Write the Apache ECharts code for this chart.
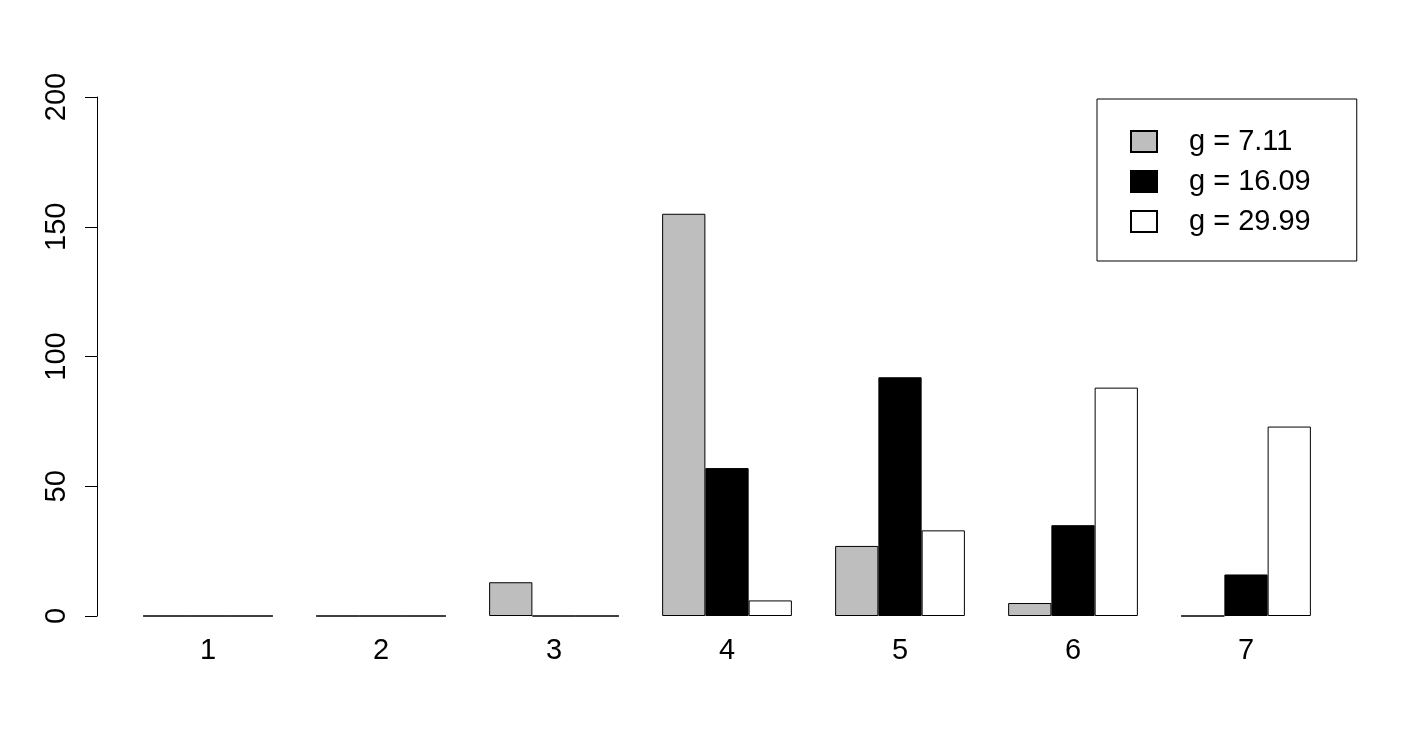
<!DOCTYPE html>
<html>
<head>
<meta charset="utf-8">
<script src="https://cdn.jsdelivr.net/npm/echarts@6/dist/echarts.min.js"></script>
<style>html,body{margin:0;padding:0;background:#fff}#c{width:1408px;height:745px}</style>
</head>
<body>
<div id="c"></div>
<script>
var categories = ['1', '2', '3', '4', '5', '6', '7'];
var seriesNames = ['g = 7.11', 'g = 16.09', 'g = 29.99'];
var g711 = [0, 0, 13, 155, 27, 5, 0];
var g1609 = [0, 0, 0, 57, 92, 35, 16];
var g2999 = [0, 0, 0, 6, 33, 88, 73];
var yTicks = [0, 50, 100, 150, 200];
var fills = ['#bebebe', '#000000', '#ffffff'];

var font = 'Liberation Sans, Arial, sans-serif';
var data = [g711, g1609, g2999];
var chart = echarts.init(document.getElementById('c'), null, {renderer: 'canvas'});
chart.setOption({
  animation: false,
  backgroundColor: '#fff',
  grid: {left: 121.5, right: 75.5, top: 97, bottom: 129, containLabel: false},
  legend: {
    orient: 'vertical', left: 1097, top: 99,
    data: seriesNames,
    itemWidth: 26, itemHeight: 21, itemGap: 11,
    padding: [28, 46, 25, 33],
    borderColor: '#000', borderWidth: 1, borderRadius: 0,
    icon: 'rect',
    textStyle: {fontFamily: font, fontSize: 29, color: '#000', padding: [0, 0, 0, 27]},
    selectedMode: false
  },
  xAxis: {
    type: 'category', data: categories,
    axisLine: {show: false}, axisTick: {show: false},
    axisLabel: {fontFamily: font, fontSize: 29, color: '#000', margin: 20}
  },
  yAxis: {
    type: 'value', min: 0, max: 200, interval: 50, offset: 24.5,
    splitLine: {show: false},
    axisLine: {show: true, lineStyle: {color: '#000', width: 1}},
    axisTick: {show: true, length: 12, lineStyle: {color: '#000'}},
    axisLabel: {fontFamily: font, fontSize: 29, color: '#000', rotate: 90, margin: 26,
      formatter: function (v) { return yTicks.indexOf(v) >= 0 ? String(v) : ''; }}
  },
  series: seriesNames.map(function (n, i) {
    return {
      name: n, type: 'bar', data: data[i],
      barGap: '0%', barCategoryGap: '25%',
      itemStyle: {color: fills[i], borderColor: '#000', borderWidth: 1},
      emphasis: {disabled: true}
    };
  })
});
</script>
</body>
</html>
